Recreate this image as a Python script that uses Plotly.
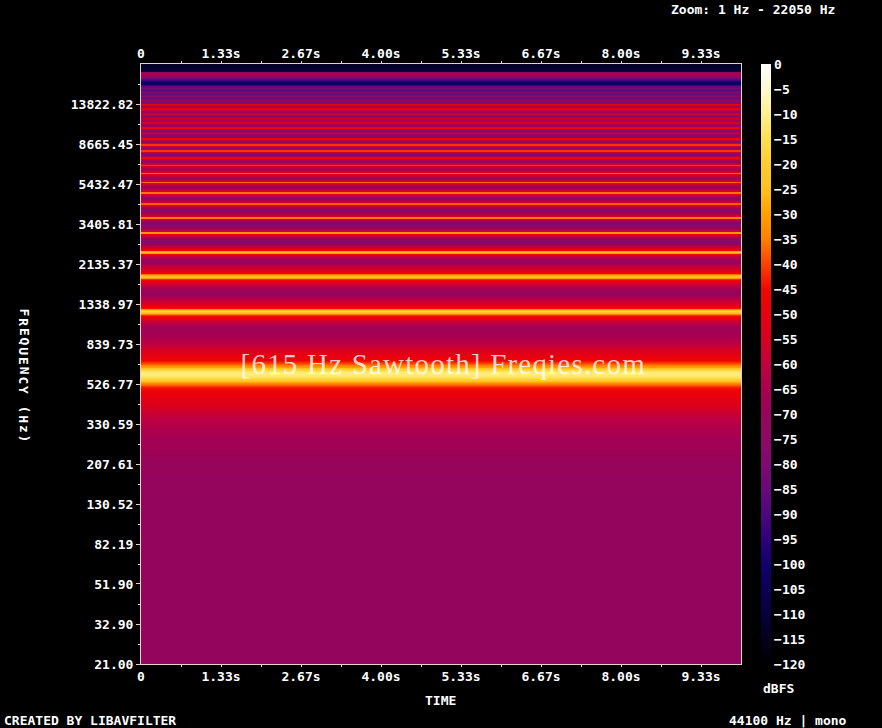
import plotly.graph_objects as go

# Spectrum profile (Hz, dBFS)
frequency_hz = [21, 33, 52, 82, 130, 207, 283, 346, 437, 480, 509, 533, 552, 572, 590, 606, 625, 645, 670, 700, 731, 783, 840,
                933, 1012, 1086, 1138, 1179, 1206, 1230, 1249, 1279, 1324, 1403, 1487, 1530, 1673, 1753, 1795, 1815, 1845,
                1870, 1912, 1970, 2112, 2185, 2344, 2410, 2440, 2460, 2480, 2520, 2600, 2800, 2960, 3030, 3075, 3115, 3180,
                3450, 3620, 3690, 3760, 4000, 4240, 4305, 4370, 4610, 4860, 4920, 4980, 5230, 5470, 5535, 5600, 5840, 6080,
                6150, 6220, 6460, 6690, 6765, 6840, 7070, 7300, 7380, 7460, 7690, 7900, 7995, 8090, 8300, 8500, 8610, 8720,
                8920, 9120, 9225, 9330, 9530, 9740, 9840, 9940, 10150, 10340, 10455, 10570, 10760, 10960, 11070, 11180,
                11380, 11600, 11685, 11800, 12000, 12200, 12300, 12420, 12770, 12950, 13070, 13190, 13380, 13600, 13700,
                13820, 14180, 14510, 14860, 15200, 15570, 15940, 16320, 16700, 17100, 17500, 17910, 18340, 18770, 19210,
                19670, 20030, 20380, 21200, 22050]
level_dbfs = [-71, -71, -71, -71, -71, -70, -66, -61, -52, -48, -43, -33, -21, -14, -11, -12, -19, -30, -40, -46, -50, -55, -60,
              -66, -68, -60, -50, -42, -26, -18, -24, -44, -52, -60, -68, -72, -60, -50, -42, -32, -23,
              -28, -45, -52, -62, -72, -60, -46, -31, -25, -31, -46, -58, -80, -60, -50, -32, -48, -62,
              -82, -56, -35, -54, -78, -54, -38, -54, -74, -54, -36, -54, -70, -54, -37, -54, -68, -54,
              -37, -54, -68, -56, -41, -56, -76, -58, -46, -58, -80, -58, -41, -58, -72, -58, -41, -58,
              -76, -60, -46, -60, -78, -66, -56, -66, -74, -60, -46, -60, -78, -66, -56, -66,
              -74, -64, -56, -64, -76, -64, -58, -66, -74, -60, -50, -60, -72, -60, -48,
              -60, -80, -74, -84, -76, -86, -80, -88, -82, -86, -100, -104, -92, -84, -72,
              -64, -70, -110, -113, -114]
time_s = [0, 10]

time_ticks = [0, 1.3333, 2.6667, 4.0, 5.3333, 6.6667, 8.0, 9.3333]
time_labels = ["0", "1.33s", "2.67s", "4.00s", "5.33s", "6.67s", "8.00s", "9.33s"]
time_minor = [0.6667, 2.0, 3.3333, 4.6667, 6.0, 7.3333, 8.6667]
freq_ticks = [21.00, 32.90, 51.90, 82.19, 130.52, 207.61, 330.59, 526.77, 839.73, 1338.97, 2135.37, 3405.81, 5432.47,
              8665.45, 13822.82]
freq_labels = ["21.00", "32.90", "51.90", "82.19", "130.52", "207.61", "330.59", "526.77", "839.73", "1338.97",
               "2135.37", "3405.81", "5432.47", "8665.45", "13822.82"]
db_ticks = [0, -5, -10, -15, -20, -25, -30, -35, -40, -45, -50, -55, -60, -65, -70, -75, -80, -85, -90, -95, -100,
            -105, -110, -115, -120]
db_labels = [str(v).replace("-", "\u2212") for v in db_ticks]

colors = [(-120, "#000000"), (-110, "#08003c"), (-100, "#10006c"), (-95, "#30007a"), (-90, "#4c087c"), (-85, "#680a78"),
          (-80, "#7e0a70"), (-75, "#8c0a66"), (-70, "#96045c"), (-65, "#aa0050"), (-60, "#c00040"), (-55, "#d80020"),
          (-50, "#e80010"), (-45, "#f00800"), (-40, "#ff4000"), (-35, "#ff8000"), (-30, "#ffa000"), (-25, "#ffc020"),
          (-20, "#ffcc30"), (-15, "#ffe050"), (-10, "#fff090"), (-5, "#fffad0"), (0, "#ffffff")]
colorscale = [[(d + 120) / 120, c] for d, c in colors]

# thin harmonics above 2.9 kHz keep their level over about a pixel and a half
rows_hz, rows_db = [], []
for i, (f, d) in enumerate(zip(frequency_hz, level_dbfs)):
    if 2900 < f < 14000 and level_dbfs[i - 1] < d > level_dbfs[i + 1]:
        rows_hz += [f * 0.9935, f * 1.0065]
        rows_db += [d, d]
    else:
        rows_hz.append(f)
        rows_db.append(d)

# the original frequency axis is logarithmic in (f - 1 Hz)
axis_y = [f - 1 for f in rows_hz]
axis_ticks = [f - 1 for f in freq_ticks]
axis_minor = [(a * b) ** 0.5 for a, b in zip(axis_ticks[:-1], axis_ticks[1:])] + [axis_ticks[-1] * 1.263]
z = [[d, d] for d in rows_db]

MONO = "DejaVu Sans Mono"
LINE = "#e8d0c8"
font = dict(family=MONO, size=13, color="white", weight="bold")

fig = go.Figure()
fig.add_trace(go.Heatmap(
    x=time_s, y=axis_y, z=z, zmin=-120, zmax=0, zsmooth="best", colorscale=colorscale, hoverinfo="skip",
    colorbar=dict(thickness=10, thicknessmode="pixels", len=600, lenmode="pixels", x=620 / 600, xanchor="left",
                  y=1, yanchor="top", xpad=0, ypad=0, outlinewidth=0, ticks="", tickmode="array",
                  tickvals=db_ticks, ticktext=db_labels, tickfont=font),
))
fig.add_trace(go.Scatter(x=[None], y=[None], xaxis="x2", showlegend=False, hoverinfo="skip"))

xcommon = dict(range=[0, 10], tickmode="array", tickvals=time_ticks, ticktext=time_labels, ticks="", ticklen=0,
               tickfont=font, showgrid=False, zeroline=False, showline=True, linecolor=LINE, linewidth=1, tickangle=0,
               minor=dict(tickmode="array", tickvals=sorted(time_ticks[1:] + time_minor), ticks="outside", ticklen=2,
                          tickcolor=LINE, showgrid=False))
fig.update_layout(
    width=882, height=728, autosize=False,
    paper_bgcolor="black", plot_bgcolor="black", showlegend=False,
    margin=dict(l=141, r=141, t=64, b=64),
    xaxis=dict(side="bottom", **xcommon),
    xaxis2=dict(side="top", overlaying="x", anchor="y", **xcommon),
    yaxis=dict(type="log", range=[1.30103, 4.34340], tickmode="array", tickvals=axis_ticks, ticktext=freq_labels,
               ticks="outside", ticklen=4, tickcolor=LINE, tickfont=font, showgrid=False, zeroline=False, showline=True,
               linecolor=LINE, linewidth=1, mirror=True,
               minor=dict(tickmode="array", tickvals=axis_minor, ticks="outside", ticklen=2, tickcolor=LINE, showgrid=False)),
)

def px(x):
    return (x - 141) / 600

def add_text(s, x, y, anchor="center", angle=0, f=font, opacity=1.0):
    fig.add_annotation(text=s, x=px(x), y=(664 - y) / 600, xref="paper", yref="paper", showarrow=False,
                       xanchor=anchor, yanchor="middle", textangle=angle, font=f, opacity=opacity)

add_text("Zoom: 1 Hz - 22050 Hz", 837, 9, "right")
add_text("CREATED BY LIBAVFILTER", 2, 720, "left")
add_text("44100 Hz | mono", 849, 720, "right")
add_text("TIME", 440, 700)
add_text("dBFS", 778, 688)
for i, ch in enumerate("FREQUENCY (Hz)"):
    if ch != " ":
        add_text(ch, 24, 312.5 + i * 9.7, angle=90)
add_text("[615 Hz Sawtooth] Freqies.com", 443, 364,
         f=dict(family="Liberation Serif", size=29, color="rgba(255,255,255,0.78)"))

page_script = """
document.documentElement.style.background = 'black';
document.body.style.margin = '0';
document.body.style.background = 'black';
document.body.style.overflow = 'hidden';
document.querySelectorAll('.annotation-text').forEach(function (t) {
    if (t.textContent.indexOf('615 Hz') >= 0) { t.style.letterSpacing = '1.2px'; }
});
"""
fig.write_html("out.html", post_script=page_script, config={"displayModeBar": False})
